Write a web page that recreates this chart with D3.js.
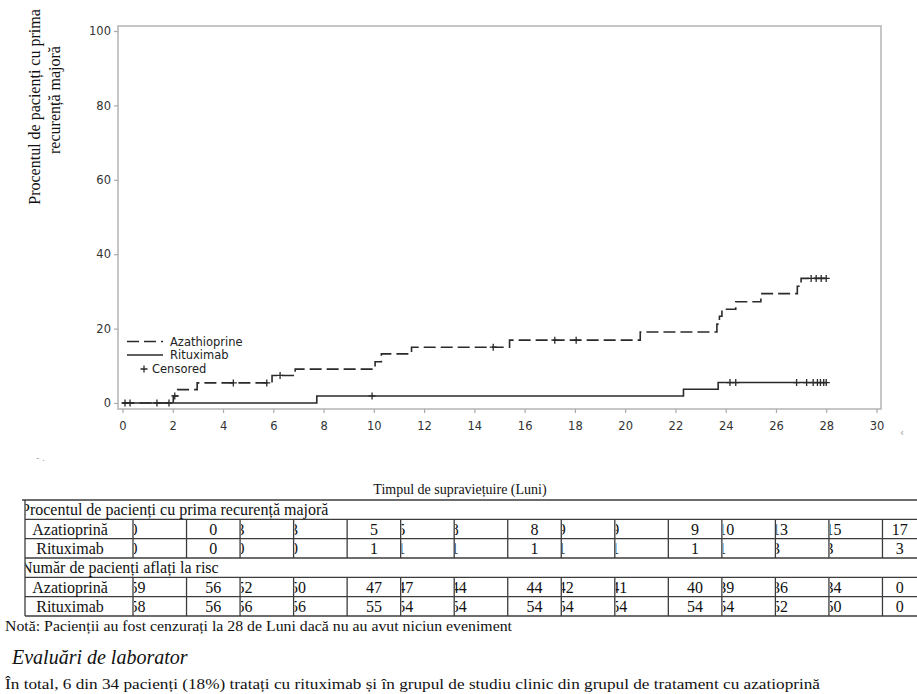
<!DOCTYPE html>
<html><head><meta charset="utf-8">
<script src="https://cdn.jsdelivr.net/npm/d3@7"></script>
<style>
html,body{margin:0;padding:0;background:#fff;}
svg{display:block;}
</style></head>
<body>
<svg id="c" width="917" height="694"></svg>
<script>
// ---------- DATA ----------
const azaTime = [0, 2.02, 2.2, 2.97, 5.95, 6.87, 10.05, 10.3, 11.5, 15.4, 20.6, 23.65, 23.75, 23.85, 24.4, 25.4, 26.85, 27.0, 28.0];
const azaPct  = [0, 1.9, 3.6, 5.4, 7.4, 9.1, 11.1, 13.2, 15.0, 16.9, 19.1, 21.2, 23.3, 25.2, 27.2, 29.4, 31.4, 33.5, 33.5];
const ritTime = [0, 7.73, 22.32, 23.7, 28.0];
const ritPct  = [0, 1.9, 3.7, 5.5, 5.5];
const azaCensored = [2.08, 4.41, 5.74, 6.27, 14.75, 17.2, 18.05, 27.4, 27.6, 27.8, 28.0];
const ritCensored = [0.1, 0.3, 1.37, 1.85, 9.93, 24.17, 24.4, 26.82, 27.22, 27.48, 27.65, 27.77, 27.9, 28.0];
const xTicks = [0,2,4,6,8,10,12,14,16,18,20,22,24,26,28,30];
const yTicks = [0,20,40,60,80,100];
const seriesNames = ["Azathioprine", "Rituximab", "Censored"];

const tableTitle = "Timpul de supraviețuire (Luni)";
const sectionPct = "Procentul de pacienți cu prima recurență majoră";
const sectionRisk = "Număr de pacienți aflați la risc";
const rowNames = ["Azatioprină", "Rituximab"];
const pctAza  = [0,0,3,3,5,5,8,8,9,9,9,10,13,15,17];
const pctRit  = [0,0,0,0,1,1,1,1,1,1,1,1,3,3,3];
const riskAza = [59,56,52,50,47,47,44,44,42,41,40,39,36,34,0];
const riskRit = [58,56,56,56,55,54,54,54,54,54,54,54,52,50,0];
const centeredCols = [1,4,7,10,14];
const yTitle = ["Procentul de pacienți cu prima", "recurență majoră"];
const noteText = "Notă: Pacienții au fost cenzurați la 28 de Luni dacă nu au avut niciun eveniment";
const headingText = "Evaluări de laborator";
const bodyText = "În total, 6 din 34 pacienți (18%) tratați cu rituximab și în grupul de studiu clinic din grupul de tratament cu azatioprină";

// ---------- CHART ----------
const svg = d3.select("#c");
const x = d3.scaleLinear().domain([0,30]).range([122.5,876.5]);
const y = d3.scaleLinear().domain([0,100]).range([403,31]);
const frame = {l:118, t:26, r:881, b:409};
const sans = "'DejaVu Sans', Verdana, sans-serif";
const serif = "'Liberation Serif', 'Times New Roman', serif";

// frame
svg.append("rect").attr("x",frame.l).attr("y",frame.t)
  .attr("width",frame.r-frame.l).attr("height",frame.b-frame.t)
  .attr("fill","none").attr("stroke","#b4b4b4").attr("stroke-width",1.5);

// axes
const yAxis = svg.append("g").attr("transform",`translate(${frame.l},0)`)
  .call(d3.axisLeft(y).tickValues(yTicks).tickSize(4).tickPadding(3));
const xAxis = svg.append("g").attr("transform",`translate(0,${frame.b})`)
  .call(d3.axisBottom(x).tickValues(xTicks).tickSize(4).tickPadding(9));
[yAxis,xAxis].forEach(a=>{
  a.select(".domain").remove();
  a.selectAll(".tick line").attr("stroke","#aaa").attr("stroke-width",1.2);
  a.selectAll(".tick text").attr("fill","#333").style("font-family",sans).style("font-size","11.5px");
});

// curves
const line = d3.line().x(d=>x(d[0])).y(d=>y(d[1])).curve(d3.curveStepAfter);
const azaPts = azaTime.map((t,i)=>[t,azaPct[i]]);
const ritPts = ritTime.map((t,i)=>[t,ritPct[i]]);
svg.append("path").attr("d",line(ritPts)).attr("fill","none")
  .attr("stroke","#2a2a2a").attr("stroke-width",1.6);
svg.append("path").attr("d",line(azaPts)).attr("fill","none")
  .attr("stroke","#2a2a2a").attr("stroke-width",1.6).attr("stroke-dasharray","12,5");

function stepVal(times, vals, t){
  let v = vals[0];
  for(let i=0;i<times.length;i++){ if(times[i]<=t) v = vals[i]; }
  return v;
}
const cross = "M-3.5,0H3.5M0,-3.5V3.5";
svg.append("g").selectAll("path").data(azaCensored).join("path")
  .attr("d",cross).attr("transform",t=>`translate(${x(t)},${y(stepVal(azaTime,azaPct,t))})`)
  .attr("stroke","#2a2a2a").attr("stroke-width",1.3).attr("fill","none");
svg.append("g").selectAll("path").data(ritCensored).join("path")
  .attr("d",cross).attr("transform",t=>`translate(${x(t)},${y(stepVal(ritTime,ritPct,t))})`)
  .attr("stroke","#2a2a2a").attr("stroke-width",1.3).attr("fill","none");

// legend
const lg = svg.append("g").style("font-family",sans).style("font-size","11.5px").attr("fill","#222");
lg.append("line").attr("x1",127).attr("x2",163).attr("y1",341.5).attr("y2",341.5)
  .attr("stroke","#2a2a2a").attr("stroke-width",1.6).attr("stroke-dasharray","12,5");
lg.append("text").attr("x",170).attr("y",345.5).text(seriesNames[0]);
lg.append("line").attr("x1",127).attr("x2",163).attr("y1",355).attr("y2",355)
  .attr("stroke","#2a2a2a").attr("stroke-width",1.6);
lg.append("text").attr("x",170).attr("y",359).text(seriesNames[1]);
lg.append("path").attr("d",cross).attr("transform","translate(144,369)")
  .attr("stroke","#2a2a2a").attr("stroke-width",1.3);
lg.append("text").attr("x",152).attr("y",373).text(seriesNames[2]);

// y title
const yt = svg.append("g").style("font-family",serif).style("font-size","16px").attr("fill","#111");
yt.append("text").attr("transform","translate(40,107) rotate(-90)").attr("text-anchor","middle").text(yTitle[0]);
yt.append("text").attr("transform","translate(60,100) rotate(-90)").attr("text-anchor","middle").text(yTitle[1]);

// small artifacts
svg.append("text").attr("x",36).attr("y",461).attr("fill","#999").style("font-size","9px").style("font-family",sans).text("- .");
svg.append("text").attr("x",900).attr("y",436).attr("fill","#999").style("font-size","10px").style("font-family",sans).text("‹");

// ---------- TABLE ----------
const tbl = svg.append("g").style("font-family",serif).style("font-size","16px").attr("fill","#111");
const tLeft = 25, tRight = 917, labelRight = 133;
const col = d3.scaleLinear().domain([0,15]).range([labelRight, 936]);
const rowY = d3.scaleLinear().domain([0,6]).range([500,616]);
const rowTop = d3.range(0,7).map(i=>rowY(i)); // row boundaries
tbl.append("text").attr("x",460).attr("y",494).attr("text-anchor","middle").style("font-size","14px").text(tableTitle);

const lineStroke = "#3c3c3c";
rowTop.forEach((yy,i)=>{
  tbl.append("line").attr("x1", i===0?22:tLeft).attr("x2",tRight).attr("y1",yy).attr("y2",yy)
    .attr("stroke",lineStroke).attr("stroke-width",1.3);
});
tbl.append("line").attr("x1",tLeft).attr("x2",tLeft).attr("y1",rowTop[0]).attr("y2",rowTop[6])
  .attr("stroke",lineStroke).attr("stroke-width",1.3);
const dataRowBands = [[rowTop[1],rowTop[3]],[rowTop[4],rowTop[6]]];
dataRowBands.forEach(b=>{
  d3.range(0,15).forEach(i=>{
    tbl.append("line").attr("x1",col(i)).attr("x2",col(i)).attr("y1",b[0]).attr("y2",b[1])
      .attr("stroke",lineStroke).attr("stroke-width",1.3);
  });
});
const defs = svg.append("defs");
defs.append("clipPath").attr("id","clipTable").append("rect")
  .attr("x",tLeft+0.5).attr("y",490).attr("width",tRight-tLeft).attr("height",130);
function baseOf(i){ return rowTop[i] + (rowTop[i+1]-rowTop[i])/2 + 5.5; }
tbl.append("text").attr("x",tLeft-4).attr("y",baseOf(0)).attr("clip-path","url(#clipTable)").text(sectionPct);
tbl.append("text").attr("x",tLeft-4).attr("y",baseOf(3)).attr("clip-path","url(#clipTable)").text(sectionRisk);

function drawRow(vals, ri, label, key){
  const top = rowTop[ri], bottom = rowTop[ri+1];
  const base = baseOf(ri);
  tbl.append("text").attr("x",(tLeft+labelRight)/2-9).attr("y",base).attr("text-anchor","middle").text(label);
  vals.forEach((v,i)=>{
    const x0 = col(i), x1 = Math.min(col(i+1), tRight);
    if(centeredCols.includes(i)){
      tbl.append("text").attr("x",(x0+x1)/2).attr("y",base).attr("text-anchor","middle").text(v);
    } else {
      const id = `clip-${key}-${i}`;
      defs.append("clipPath").attr("id",id).append("rect")
        .attr("x",x0+1).attr("y",top).attr("width",x1-x0-1).attr("height",bottom-top);
      tbl.append("text").attr("x",x0-3.5).attr("y",base).attr("clip-path",`url(#${id})`).text(v);
    }
  });
}
drawRow(pctAza, 1, rowNames[0], "pa");
drawRow(pctRit, 2, rowNames[1], "pr");
drawRow(riskAza, 4, rowNames[0], "ra");
drawRow(riskRit, 5, rowNames[1], "rr");

// note and following text
svg.append("text").attr("x",5).attr("y",631).style("font-family",serif).style("font-size","14px")
  .attr("textLength",507).attr("lengthAdjust","spacingAndGlyphs").attr("fill","#111").text(noteText);
svg.append("text").attr("x",12).attr("y",664).style("font-family",serif).style("font-size","20px")
  .style("font-style","italic").attr("fill","#111").text(headingText);
svg.append("text").attr("x",5).attr("y",689).style("font-family",serif).style("font-size","15px")
  .attr("textLength",815).attr("lengthAdjust","spacingAndGlyphs").attr("fill","#111").text(bodyText);
</script>
</body></html>
